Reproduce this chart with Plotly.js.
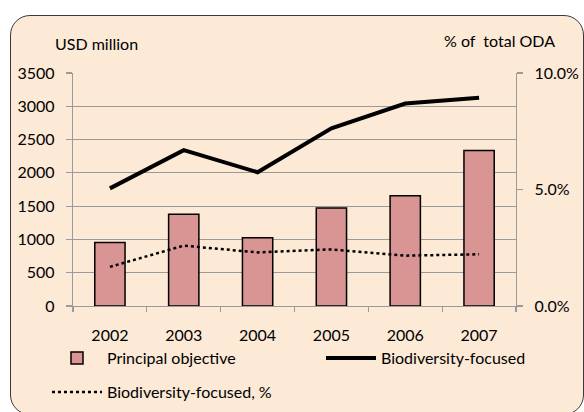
<!DOCTYPE html>
<html>
<head>
<meta charset="utf-8">
<script src="https://cdn.plot.ly/plotly-3.0.1.min.js"></script>
<style>
  html, body { margin:0; padding:0; background:#ffffff; width:584px; height:412px; overflow:hidden; }
  #frame { position:absolute; left:10px; top:15px; width:574px; height:400px; border:1.4px solid #3a3a3a; border-radius:20px; background:#FCE9D6; box-sizing:border-box; }
  #chart { position:absolute; left:0; top:0; width:584px; height:412px; }
</style>
</head>
<body>
<div id="frame"></div>
<div id="chart"></div>
<script>
const years = ['2002', '2003', '2004', '2005', '2006', '2007'];
const principalObjective = [955, 1378, 1027, 1471, 1657, 2337];
const biodiversityFocused = [1767, 2341, 2009, 2669, 3042, 3127];
const biodiversityFocusedPct = [0.0168, 0.0259, 0.0230, 0.0243, 0.0216, 0.0222];
const leftTicks = [0, 500, 1000, 1500, 2000, 2500, 3000, 3500];
const rightTicks = [0, 0.05, 0.10];

const FONT = 'Lato, "Open Sans", sans-serif';
const FS = 16;
const GRID = '#9a9a9a';

const traces = [
  {
    type: 'bar', name: 'Principal objective', x: years, y: principalObjective,
    marker: { color: '#D99594', line: { color: '#000000', width: 1.5 } },
    yaxis: 'y', legend: 'legend'
  },
  {
    type: 'scatter', mode: 'lines', name: 'Biodiversity-focused', x: years, y: biodiversityFocused,
    line: { color: '#000000', width: 4 }, yaxis: 'y', legend: 'legend3'
  },
  {
    type: 'scatter', mode: 'lines', name: 'Biodiversity-focused, %', x: years, y: biodiversityFocusedPct,
    line: { color: '#000000', width: 2.5, dash: 'dot' }, yaxis: 'y2', legend: 'legend2'
  }
];

const legendBase = {
  orientation: 'h', xanchor: 'left', yanchor: 'middle',
  itemwidth: 50, bgcolor: 'rgba(0,0,0,0)',
  font: { family: FONT, size: FS, color: '#000000' },
  traceorder: 'normal'
};

const layout = {
  width: 584, height: 412,
  margin: { l: 73, r: 68, t: 73, b: 106, pad: 0, autoexpand: false },
  paper_bgcolor: 'rgba(0,0,0,0)',
  plot_bgcolor: 'rgba(0,0,0,0)',
  font: { family: FONT, size: FS, color: '#000000' },
  bargap: 0.59,
  showlegend: true,
  legend: Object.assign({}, legendBase, { x: -0.0587, y: -0.2232 }),
  legend3: Object.assign({}, legendBase, { x: 0.5598, y: -0.2232 }),
  legend2: Object.assign({}, legendBase, { x: -0.0587, y: -0.369 }),
  xaxis: {
    type: 'category', showgrid: false, showline: true, linecolor: GRID, linewidth: 1.2,
    ticks: 'outside', tickson: 'boundaries', ticklen: 5, tickcolor: GRID, tickwidth: 1.2,
    ticklabelstandoff: 15, tickfont: { family: FONT, size: FS }
  },
  yaxis: {
    range: [0, 3500], tickvals: leftTicks, ticktext: leftTicks.map(String),
    showgrid: true, gridcolor: GRID, gridwidth: 1.2,
    showline: true, linecolor: GRID, linewidth: 1.2, zeroline: false,
    ticks: 'outside', ticklen: 6, tickcolor: GRID, tickwidth: 1.2,
    ticklabelstandoff: 8, tickfont: { family: FONT, size: FS }
  },
  yaxis2: {
    overlaying: 'y', side: 'right', range: [0, 0.10],
    tickvals: rightTicks, tickformat: '.1%',
    showgrid: false, showline: true, linecolor: GRID, linewidth: 1.2, zeroline: false,
    ticks: 'outside', ticklen: 6, tickcolor: GRID, tickwidth: 1.2,
    ticklabelstandoff: 8, tickfont: { family: FONT, size: FS }
  },
  annotations: [
    { text: 'USD million', xref: 'paper', yref: 'paper', x: -0.045, y: 1.127, xanchor: 'left', yanchor: 'middle', showarrow: false, font: { family: FONT, size: FS } },
    { text: '% of  total ODA', xref: 'paper', yref: 'paper', x: 1.092, y: 1.139, xanchor: 'right', yanchor: 'middle', showarrow: false, font: { family: FONT, size: FS } }
  ]
};

Plotly.newPlot('chart', traces, layout, { displayModeBar: false, staticPlot: true });
</script>
</body>
</html>
